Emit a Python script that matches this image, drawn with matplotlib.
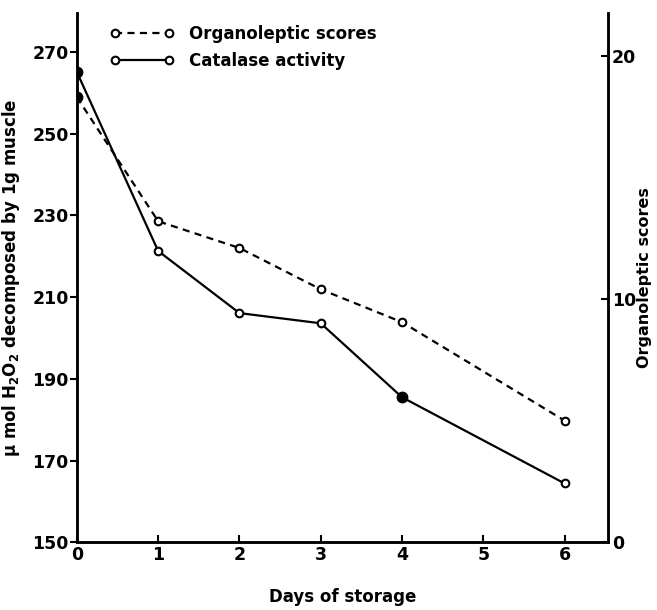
import matplotlib
matplotlib.use("Agg")
import matplotlib.pyplot as plt

days = [0, 1, 2, 3, 4, 6]
catalase = [265.1, 221.3, 206.1, 203.6, 185.5, 164.4]
organoleptic = [18.3, 13.2, 12.1, 10.4, 9.05, 5.0]
filled_catalase = [0, 4]
filled_organoleptic = [0]

left_ticks = [150, 170, 190, 210, 230, 250, 270]
right_ticks = [0, 10, 20]
x_ticks = [0, 1, 2, 3, 4, 5, 6]

plt.rcParams['font.family'] = ['DejaVu Sans']
plt.rcParams['font.weight'] = 'bold'

fig = plt.figure(figsize=(6.57, 6.10), dpi=100)
ax = fig.add_axes([0.117, 0.111, 0.808, 0.868])
ax2 = ax.twinx()

lw = 1.6
ms = 5.5
l1, = ax2.plot(days, organoleptic, color='black', lw=lw, ls=(0, (3.2, 2.4)),
               marker='o', ms=ms, mfc='white', mec='black', mew=1.5,
               label='Organoleptic scores')
ax2.plot([days[i] for i in filled_organoleptic],
         [organoleptic[i] for i in filled_organoleptic],
         ls='none', marker='o', ms=ms + 2, color='black')
l2, = ax.plot(days, catalase, color='black', lw=lw, ls='-',
              marker='o', ms=ms, mfc='white', mec='black', mew=1.5,
              label='Catalase activity')
ax.plot([days[i] for i in filled_catalase],
        [catalase[i] for i in filled_catalase],
        ls='none', marker='o', ms=ms + 2, color='black')

ax.set_xlim(0, 6.53)
ax.set_ylim(150, 279.6)
ax2.set_ylim(0, 21.77)

ax.set_xticks(x_ticks)
ax.set_yticks(left_ticks)
ax2.set_yticks(right_ticks)
ax.tick_params(axis='x', direction='in', length=5, width=1.5, pad=3, labelsize=12.5)
ax.tick_params(axis='y', direction='out', length=5, width=1.5, pad=1, labelsize=12.5)
ax2.tick_params(axis='y', direction='in', length=5, width=1.5, pad=3, labelsize=12.5)

for a in (ax, ax2):
    a.spines['top'].set_visible(False)
    for s in ('left', 'right', 'bottom'):
        a.spines[s].set_linewidth(1.8)

ax.set_xlabel('Days of storage', fontsize=12, fontweight='bold')
ax.xaxis.set_label_coords(0.5, -0.087)
ax.set_ylabel(r'$\mathbf{\mu}$ mol H$_\mathbf{2}$O$_\mathbf{2}$ decomposed by 1g muscle',
              fontsize=12, fontweight='bold')
ax.yaxis.set_label_coords(-0.104, 0.5)
ax2.set_ylabel('Organoleptic scores', fontsize=11.5, fontweight='bold')
ax2.yaxis.set_label_coords(1.055, 0.5)

leg = ax.legend(handles=[l1, l2], loc='upper left', bbox_to_anchor=(0.035, 1.005),
                frameon=False, numpoints=2, handlelength=3.8, handletextpad=0.9,
                labelspacing=0.55, prop={'size': 12, 'weight': 'bold'})

fig.savefig('out.png', dpi=100)
